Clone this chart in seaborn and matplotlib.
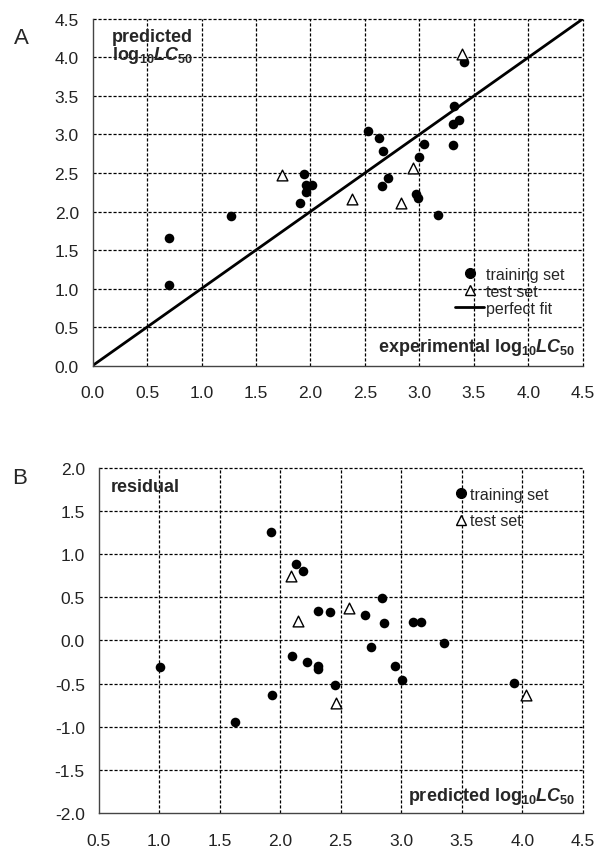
import matplotlib
matplotlib.use("Agg")
import matplotlib.pyplot as plt
import seaborn as sns
import pandas as pd
from matplotlib.lines import Line2D

# ---- data: panel A (experimental vs predicted) ----
train_exp = [0.70, 0.70, 1.27, 1.90, 1.94, 1.96, 2.01, 1.96, 2.53, 2.63, 2.67, 2.71,
             2.66, 2.97, 2.99, 3.00, 3.04, 3.17, 3.31, 3.31, 3.36, 3.32, 3.41]
train_pred = [1.65, 1.04, 1.94, 2.11, 2.49, 2.34, 2.35, 2.25, 3.04, 2.96, 2.78, 2.43,
              2.33, 2.23, 2.17, 2.71, 2.87, 1.96, 2.86, 3.14, 3.19, 3.37, 3.94]
test_exp = [1.74, 2.38, 2.83, 2.94, 3.39]
test_pred = [2.47, 2.16, 2.11, 2.57, 4.04]
fit_x = [0.0, 4.5]

# ---- data: panel B (predicted vs residual) ----
res_train_pred = [1.92, 2.13, 2.19, 2.31, 2.41, 2.84, 2.70, 2.86, 3.10, 3.16, 3.35, 2.75,
                  2.10, 2.22, 2.31, 2.31, 2.95, 3.01, 2.45, 1.93, 1.63, 3.93, 1.01]
res_train = [1.25, 0.88, 0.80, 0.345, 0.33, 0.49, 0.30, 0.20, 0.21, 0.21, -0.03, -0.08,
             -0.18, -0.25, -0.29, -0.33, -0.30, -0.46, -0.51, -0.63, -0.94, -0.49, -0.31]
res_test_pred = [2.09, 2.15, 2.57, 2.46, 4.03]
res_test = [0.75, 0.23, 0.37, -0.72, -0.63]

xticks_a = [0.0, 0.5, 1.0, 1.5, 2.0, 2.5, 3.0, 3.5, 4.0, 4.5]
yticks_a = xticks_a
xticks_b = [0.5, 1.0, 1.5, 2.0, 2.5, 3.0, 3.5, 4.0, 4.5]
yticks_b = [-2.0, -1.5, -1.0, -0.5, 0.0, 0.5, 1.0, 1.5, 2.0]

sns.set_style("white")
plt.rcParams['font.family'] = ['Liberation Sans', 'DejaVu Sans']
plt.rcParams['mathtext.fontset'] = 'custom'
plt.rcParams['mathtext.rm'] = 'Liberation Sans:bold'
plt.rcParams['mathtext.it'] = 'Liberation Sans:bold:italic'
plt.rcParams['mathtext.bf'] = 'Liberation Sans:bold'

fig = plt.figure(figsize=(6.0, 8.53), dpi=100)
axA = fig.add_axes([0.1545, 0.5703, 0.8167, 0.4063])
axB = fig.add_axes([0.1645, 0.0454, 0.8067, 0.4052])

dfA_tr = pd.DataFrame({"x": train_exp, "y": train_pred})
dfA_te = pd.DataFrame({"x": test_exp, "y": test_pred})
dfFit = pd.DataFrame({"x": fit_x, "y": fit_x})
dfB_tr = pd.DataFrame({"x": res_train_pred, "y": res_train})
dfB_te = pd.DataFrame({"x": res_test_pred, "y": res_test})

def style_axes(ax, xt, yt):
    ax.set_xlim(xt[0], xt[-1])
    ax.set_ylim(yt[0], yt[-1])
    ax.set_xticks(xt)
    ax.set_yticks(yt)
    ax.set_xticklabels([f"{v:.1f}" for v in xt])
    ax.set_yticklabels([f"{v:.1f}" for v in yt])
    for v in xt[1:]:
        ax.axvline(v, color='black', lw=0.9, ls=(0, (2.5, 1.5)), zorder=0, clip_on=False)
    for v in yt[1:]:
        ax.axhline(v, color='black', lw=0.9, ls=(0, (2.5, 1.5)), zorder=0, clip_on=False)
    for s in ['top', 'right']:
        ax.spines[s].set_visible(False)
    for s in ['left', 'bottom']:
        ax.spines[s].set_color('#444444')
        ax.spines[s].set_linewidth(1.0)
    ax.tick_params(axis='both', length=0, labelsize=12.5, labelcolor='#222222')
    ax.tick_params(axis='x', pad=14)
    ax.tick_params(axis='y', pad=10)
    ax.set_xlabel("")
    ax.set_ylabel("")

# Panel A
sns.lineplot(data=dfFit, x="x", y="y", ax=axA, color='black', lw=2.0, zorder=2)
sns.scatterplot(data=dfA_tr, x="x", y="y", ax=axA, marker='o', s=48, color='black',
                edgecolor='black', linewidth=0, zorder=3)
sns.scatterplot(data=dfA_te, x="x", y="y", ax=axA, marker='^', s=60, facecolor='white',
                edgecolor='black', linewidth=1.0, zorder=4)
style_axes(axA, xticks_a, yticks_a)

axA.text(0.04, 0.975, "predicted\nlog$_{10}$$LC_{50}$", transform=axA.transAxes, fontsize=13,
         fontweight='bold', va='top', ha='left', linespacing=0.95)
axA.text(0.985, 0.055, "experimental log$_{10}$$LC_{50}$", transform=axA.transAxes, fontsize=13,
         fontweight='bold', va='center', ha='right')

hA = [Line2D([], [], ls='none', marker='o', ms=7, color='black'),
      Line2D([], [], ls='none', marker='^', ms=7.5, mfc='white', mec='black', mew=1.0),
      Line2D([], [], color='black', lw=2.0)]
axA.legend(hA, ["training set", "test set", "perfect fit"], loc='upper left',
           bbox_to_anchor=(0.74, 0.285), frameon=False, borderpad=0, borderaxespad=0,
           handlelength=1.8, handletextpad=0.15, labelspacing=0.12, fontsize=11.5)

fig.text(21.7 / 600, 1 - 39 / 853, "A", fontsize=16, ha='center', va='center')

# Panel B
sns.scatterplot(data=dfB_tr, x="x", y="y", ax=axB, marker='o', s=48, color='black',
                edgecolor='black', linewidth=0, zorder=3)
sns.scatterplot(data=dfB_te, x="x", y="y", ax=axB, marker='^', s=60, facecolor='white',
                edgecolor='black', linewidth=1.0, zorder=4)
style_axes(axB, xticks_b, yticks_b)

axB.text(0.025, 0.945, "residual", transform=axB.transAxes, fontsize=13,
         fontweight='bold', va='center', ha='left')
axB.text(0.985, 0.05, "predicted log$_{10}$$LC_{50}$", transform=axB.transAxes, fontsize=13,
         fontweight='bold', va='center', ha='right')

hB = [Line2D([], [], ls='none', marker='o', ms=7, color='black'),
      Line2D([], [], ls='none', marker='^', ms=7.5, mfc='white', mec='black', mew=1.0)]
axB.legend(hB, ["training set", "test set"], loc='upper left',
           bbox_to_anchor=(0.738, 0.945), frameon=False, borderpad=0, borderaxespad=0,
           handlelength=0.7, handletextpad=0.2, labelspacing=0.72, fontsize=11.5)

fig.text(20 / 600, 1 - 479 / 853, "B", fontsize=16, ha='center', va='center')

fig.savefig("out.png", dpi=100)
